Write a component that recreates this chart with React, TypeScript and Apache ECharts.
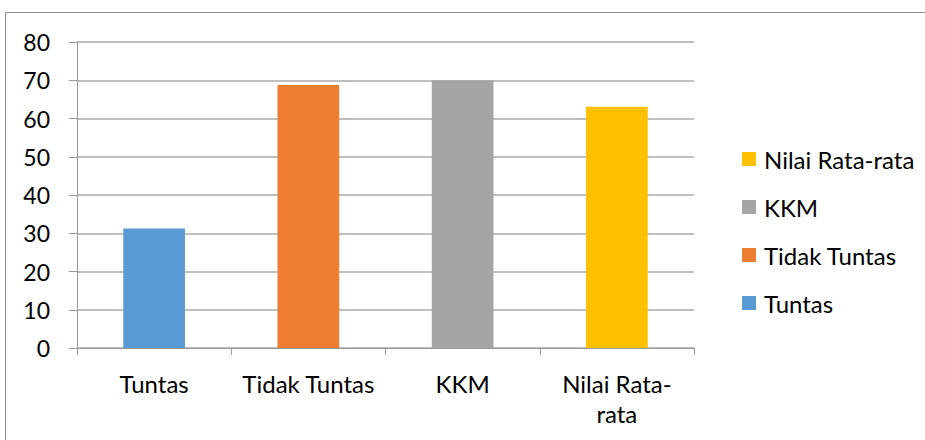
import React, { useEffect, useRef } from "react";
import * as echarts from "echarts";

const categories = ["Tuntas", "Tidak Tuntas", "KKM", "Nilai Rata-rata"];
const categoryLabels = ["Tuntas", "Tidak Tuntas", "KKM", "Nilai Rata-\nrata"];
const values = [31.25, 68.75, 70, 63.1];
const colors = ["#5B9BD5", "#ED7D31", "#A5A5A5", "#FFC000"];
const yTicks = [0, 10, 20, 30, 40, 50, 60, 70, 80];

export default function App() {
  const ref = useRef<HTMLDivElement>(null);
  useEffect(() => {
    document.body.style.margin = "0";
    const chart = echarts.init(ref.current!, null, { renderer: "svg" });
    const font = "Lato";
    const series = categories.map((name, i) => ({
      name,
      type: "bar",
      stack: "all",
      barWidth: "40%",
      itemStyle: { color: colors[i] },
      data: categories.map((_, j) => (j === i ? values[i] : "-")),
    }));
    chart.setOption({
      animation: false,
      textStyle: { fontFamily: font },
      graphic: [
        {
          type: "rect",
          shape: { x: 5.5, y: 12.5, width: 940, height: 460 },
          style: { fill: "none", stroke: "#8c8c8c", lineWidth: 1 },
          silent: true,
        },
      ],
      grid: { left: 77, right: 231, top: 42, bottom: 92, containLabel: false },
      legend: {
        orient: "vertical",
        left: 737,
        top: 142,
        itemWidth: 14,
        itemHeight: 14,
        itemGap: 24,
        icon: "rect",
        data: [...categories].reverse(),
        textStyle: { fontFamily: font, fontSize: 24, color: "#000", lineHeight: 24, padding: [0, 0, 0, 3] },
      },
      xAxis: {
        type: "category",
        data: categoryLabels,
        axisLine: { lineStyle: { color: "#999", width: 1 } },
        axisTick: { show: true, length: 7, alignWithLabel: false, lineStyle: { color: "#999" } },
        axisLabel: {
          fontFamily: font,
          fontSize: 24,
          color: "#000",
          margin: 20,
          lineHeight: 30,
          interval: 0,
        },
      },
      yAxis: {
        type: "value",
        min: yTicks[0],
        max: yTicks[yTicks.length - 1],
        interval: 10,
        axisLine: { show: true, lineStyle: { color: "#999", width: 1 } },
        axisTick: { show: true, length: 8, lineStyle: { color: "#999" } },
        splitLine: { lineStyle: { color: "#aaa", width: 1.5 } },
        axisLabel: { fontFamily: font, fontSize: 23, color: "#000", margin: 27 },
      },
      series,
    });
    return () => chart.dispose();
  }, []);
  return (
    <div
      ref={ref}
      style={{ position: "absolute", left: 0, top: 0, width: 925, height: 440, background: "#fff" }}
    />
  );
}
